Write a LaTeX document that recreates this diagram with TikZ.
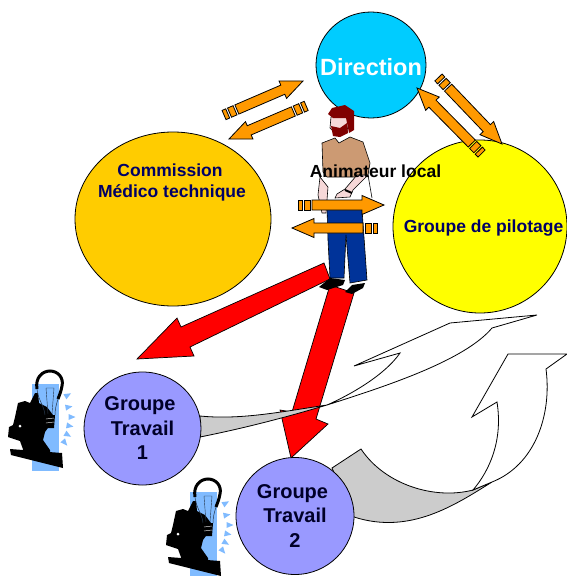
\documentclass[tikz,border=0pt]{standalone}
\usepackage{fontspec}
\setmainfont{Liberation Sans}
\usetikzlibrary{shapes.geometric}

\definecolor{cdir}{HTML}{00CCFF}
\definecolor{ccomm}{HTML}{FFCC00}
\definecolor{cpilot}{HTML}{FFFF00}
\definecolor{cgt}{HTML}{9999FF}
\definecolor{corange}{HTML}{FF9900}
\definecolor{cribbon}{HTML}{CCCCCC}
\definecolor{cnavy}{HTML}{000066}
\definecolor{cshirt}{HTML}{CC9A73}
\definecolor{cskin}{HTML}{F6D8D8}
\definecolor{chair}{HTML}{800000}
\definecolor{cpants}{HTML}{003399}
\definecolor{cbulb}{HTML}{80BBFF}

\tikzset{
  bubble/.style = {ellipse, draw = black, line width = 0.8pt, inner sep = 0pt, align = center},
  midtext/.style = {font = \fontsize{17.5}{21}\selectfont\bfseries, align = center, inner sep = 0pt},
  gttext/.style = {font = \fontsize{20}{24.5}\selectfont\bfseries, text = cnavy!40!black},
  redarrow/.style = {draw = black, line width = 0.7pt, fill = red},
  ribbon/.style = {draw = black, line width = 0.8pt},
  man/.style = {draw = black, line width = 0.6pt},
  pics/orarrow/.style = {code = {
    \draw [draw = black, line width = 0.8pt, fill = corange] (0,0) -- (-22,-9.5) -- (-22,-5) -- (-#1+14,-5) -- (-#1+14,5) -- (-22,5) -- (-22,9.5) -- cycle;
    \draw [draw = black, line width = 0.8pt, fill = corange] (-#1+12,-5) rectangle (-#1+6,5);
    \draw [draw = black, line width = 0.8pt, fill = corange] (-#1+4,-5) rectangle (-#1,5);
  }},
  pics/bulbman/.style = {code = {
    \fill [cbulb] (32,384) rectangle (59,471);
    \fill [black] (15,417) -- (18,403) -- (25,401) -- (30,403) -- (35,393) -- (38,393) -- (39,403) -- (47,407) -- (53,415) -- (50,425) -- (45,432) -- (43,440) -- (50,450) -- (50,456) -- (24,452) -- (20,441) -- (8,437) -- (9,427) -- (13,425) -- cycle;
    \fill [white] (20,426) circle (1.5);
    \fill [black] (10,449) -- (62,453) -- (63,468) -- (11,455) -- cycle;
    \draw [black, line width = 3pt] (37,389) .. controls (35,378) and (42,371) .. (50,371) .. controls (58,371) and (64,378) .. (62,386) .. controls (61,392) and (59,396) .. (58,399);
    \draw [black!70!cbulb, line width = 0.5pt] (37,389) .. controls (38,400) and (44,405) .. (45,415);
    \draw [black!70!cbulb, line width = 0.5pt] (58,399) .. controls (56,405) and (55,410) .. (55,415);
    \draw [black!70!cbulb, line width = 0.4pt] (46,388) -- (48,414) (54,388) -- (52,414) (46,388) -- (54,388);
    \fill [black] (45,415) -- (55,415) -- (54,428) -- (47,428) -- cycle;
    \draw [white, line width = 0.4pt] (46,419) -- (54,418) (46,423) -- (54,422);
    \foreach \rx/\ry/\ra in {68/395/30, 69/407/10, 72/417/0, 70/426/-10, 68/435/-30, 65/443/-50}
      \fill [cbulb, shift = {(\rx,\ry)}, rotate = \ra] (-3.5,-3) -- (3.5,0) -- (-3.5,3) -- cycle;
  }}
}

\begin{document}
\begin{tikzpicture}[x = 1pt, y = -1pt]
\useasboundingbox (0,0) rectangle (567,576);

\node [bubble, fill = cdir, minimum width = 110pt, minimum height = 106pt] (dir) at (371,65) {};
\node [bubble, fill = ccomm, minimum width = 196pt, minimum height = 174pt] (comm) at (173,219) {};
\node [bubble, fill = cpilot, minimum width = 174pt, minimum height = 173pt] (pilot) at (480,226.5) {};

% red arrows
\draw [redarrow] (324,263) -- (330,279) -- (190,347) -- (194,356) -- (137,359) -- (177,318) -- (181,327) -- cycle;
\draw [redarrow] (330,285) -- (354,293) -- (316,419) -- (328,424) -- (291,458) -- (280,410) -- (292,412) -- cycle;

% man
\fill [white] (327,175) -- (367,175) -- (372,200) -- (327,212) -- cycle;
\draw [man] (368,175) -- (372,198);
\draw [man, fill = cskin] (320,177) -- (318,195) -- (322,213) -- (326,213) -- (328,187) -- cycle;
\draw [man, fill = cpants] (327,209) -- (362,209) -- (367,280) -- (350,283) -- (346,235) -- (344,278) -- (330,278) -- (328,240) -- cycle;
\fill [black] (330,278) -- (345,280) -- (343,285) -- (327,290) -- (319,287) -- cycle;
\fill [black] (352,285) -- (365,283) -- (363,288) -- (352,294) -- (345,292) -- cycle;
\draw [man, fill = cshirt] (322,143) -- (335,138) -- (339,143) -- (350,137) -- (363,142) -- (370,163) -- (368,175) -- (358,177) -- (327,177) -- (323,172) -- cycle;
\draw [man, fill = cskin] (357,175) -- (368,175) -- (353,190) -- (350,197) -- (335,198) -- (337,194) -- (345,189) -- cycle;
\draw [black, line width = 2pt] (345,190) -- (352,193);
\draw [man, fill = cskin] (331,117) -- (345,113) -- (350,120) -- (347,130) -- (334,132) -- (330,128) -- cycle;
\fill [chair] (328,114) -- (332,108) -- (345,105) -- (354,111) -- (354,130) -- (349,133) -- (346,118) -- (333,118) -- cycle;
\fill [chair] (331,126) -- (340,128) -- (347,123) -- (348,133) -- (340,137) -- (333,136) -- cycle;

% ribbons
\draw [ribbon, fill = cribbon] (200,416) .. controls (240,420) and (280,412) .. (327,405) .. controls (290,416) and (250,427) .. (200,437) -- cycle;
\draw [ribbon, fill = white] (327,405) .. controls (350,395) and (385,375) .. (400,353) -- (354,366) -- (450,323) -- (537,315) -- (492,328) .. controls (465,360) and (390,385) .. (327,405) -- cycle;
\draw [ribbon, fill = cribbon] (332,468) -- (361,449) .. controls (385,485) and (435,500) .. (473,490) -- (492,482) .. controls (455,505) and (410,535) .. (354,517) -- cycle;
\draw [ribbon, fill = white] (473,490) .. controls (490,470) and (503,440) .. (497,402) -- (472,417) -- (508,354) -- (567,354) -- (546,369) .. controls (552,415) and (535,465) .. (492,482) -- cycle;

\node [bubble, fill = cgt, gttext, minimum width = 117pt, minimum height = 113pt] (gt1) at (142.5,428.5) {Groupe\hspace*{5pt}\\Travail\\1};
\node [bubble, fill = cgt, gttext, minimum width = 118pt, minimum height = 117pt] (gt2) at (295,516) {Groupe\hspace*{5pt}\\Travail\hspace*{3pt}\\2};

\pic at (0,0) {bulbman};
\pic at (158,108) {bulbman};

% orange arrows
\pic [rotate = 23.3] at (303,81) {orarrow=86};
\pic [rotate = 203.2] at (229,139) {orarrow=84};
\pic [rotate = -46.3] at (502,144) {orarrow=92};
\pic [rotate = 134.6] at (417,88) {orarrow=92};
\pic at (384,205) {orarrow=86};
\pic [rotate = 180] at (292,228) {orarrow=85};

\node [font = \fontsize{23.5}{26}\selectfont\bfseries, text = white, inner sep = 0pt] (dirlabel) at (371,67) {Direction};
\node [midtext, text = cnavy] (commlabel) at (172,182.5) {Commission\hspace*{4pt}\\Médico technique};
\node [midtext, text = cnavy] (pilotlabel) at (483.5,228) {Groupe de pilotage};
\node [midtext, text = black] (animlabel) at (375.5,171) {Animateur local};
\end{tikzpicture}
\end{document}
